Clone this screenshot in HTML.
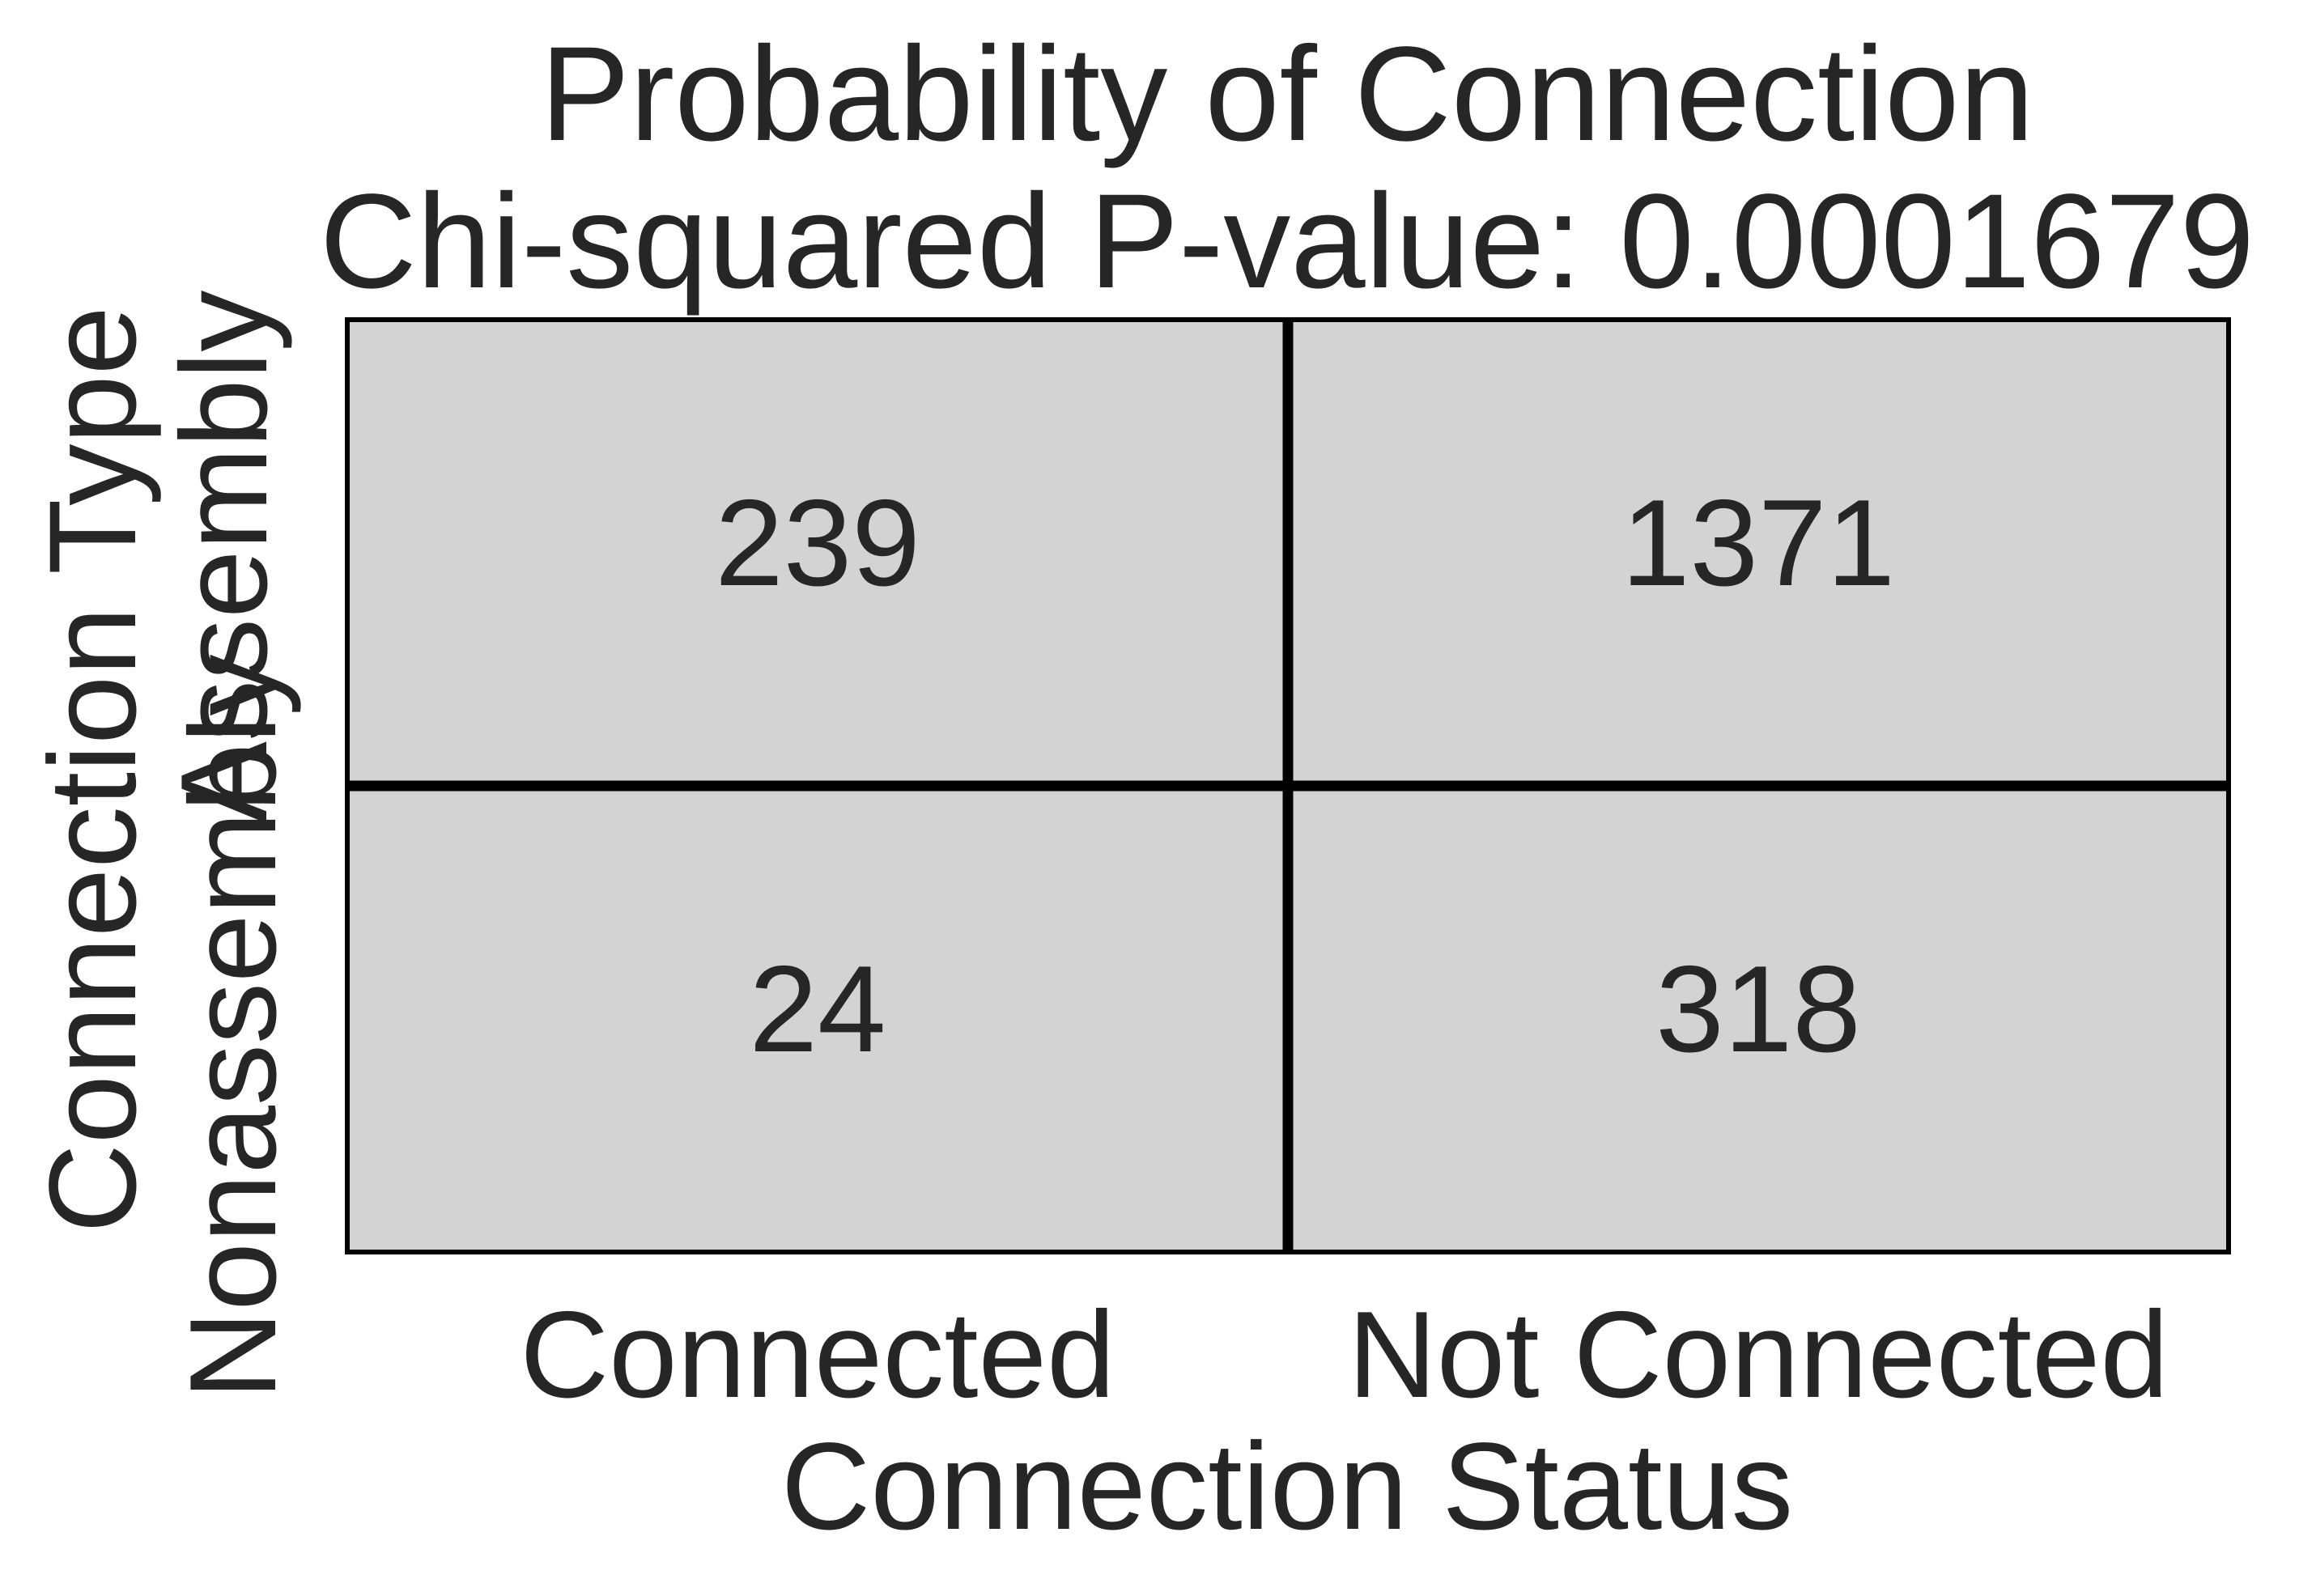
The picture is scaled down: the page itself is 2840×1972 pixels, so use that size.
<!DOCTYPE html>
<html><head><meta charset="utf-8"><style>
html,body{margin:0;padding:0;background:#fff;}
svg{display:block;font-family:"Liberation Sans",Arial,sans-serif;}
</style></head><body>
<svg id="chart" width="2840" height="1972" viewBox="0 0 2840 1972">
<text x="1590" y="173" font-size="166" fill="#262626" text-anchor="middle">Probability of Connection</text>
<text x="1590" y="355" font-size="166" fill="#262626" text-anchor="middle">Chi-squared P-value: 0.0001679</text>
<g id="cells"></g>
<text x="1590" y="1889" font-size="153" fill="#262626" text-anchor="middle">Connection Status</text>
<text transform="translate(167,951) rotate(-90)" font-size="153" fill="#262626" text-anchor="middle">Connection Type</text>
</svg>
<script>
const xCategories = ["Connected", "Not Connected"];
const yCategories = ["Assembly", "Nonassembly"];
const countsAssembly = [239, 1371];
const countsNonassembly = [24, 318];

const L = 429, R = 2753, T = 395, B = 1547;
const ns = "http://www.w3.org/2000/svg";
const svg = document.getElementById("chart");
const g = document.getElementById("cells");
const cw = (R - L) / xCategories.length, ch = (B - T) / yCategories.length;
const xPos = i => L + i * cw;
const yPos = j => T + j * ch;
const rows = [countsAssembly, countsNonassembly];

function mk(tag, attrs) {
  const e = document.createElementNS(ns, tag);
  for (const k in attrs) e.setAttribute(k, attrs[k]);
  return e;
}
rows.forEach((row, j) => {
  row.forEach((v, i) => {
    const r = mk("rect", {x: xPos(i), y: yPos(j), width: cw, height: ch, fill: "#d3d3d3"});
    
    
    g.appendChild(r);
  });
});
for (let i = 1; i < xCategories.length; i++) {
  const l = mk("line", {x1: xPos(i), x2: xPos(i), y1: T, y2: B, stroke: "#000", "stroke-width": 13});
  
  
  g.appendChild(l);
}
for (let j = 1; j < yCategories.length; j++) {
  const l = mk("line", {x1: L, x2: R, y1: yPos(j), y2: yPos(j), stroke: "#000", "stroke-width": 13});
  
  
  g.appendChild(l);
}
rows.forEach((row, j) => {
  row.forEach((v, i) => {
    const t = mk("text", {x: xPos(i) + cw / 2, y: yPos(j) + ch / 2 + 40, "font-size": 152, fill: "#262626", "text-anchor": "middle"});
    t.textContent = String(v);
    
    
    g.appendChild(t);
  });
});
const border = mk("rect", {x: L, y: T, width: R - L, height: B - T, fill: "none", stroke: "#000", "stroke-width": 6});


g.appendChild(border);
xCategories.forEach((c, i) => {
  const t = mk("text", {x: xPos(i) + cw / 2, y: 1726, "font-size": 152, fill: "#262626", "text-anchor": "middle"});
  t.textContent = c;
  
  
  svg.appendChild(t);
});
const yTickX = [329, 340];
const yTickOff = [5, 10];
yCategories.forEach((c, j) => {
  const cy = yPos(j) + ch / 2 + yTickOff[j];
  const t = mk("text", {transform: `translate(${yTickX[j]},${cy}) rotate(-90)`, "font-size": 152, fill: "#262626", "text-anchor": "middle"});
  t.textContent = c;
  
  
  svg.appendChild(t);
});
</script>
</body></html>
